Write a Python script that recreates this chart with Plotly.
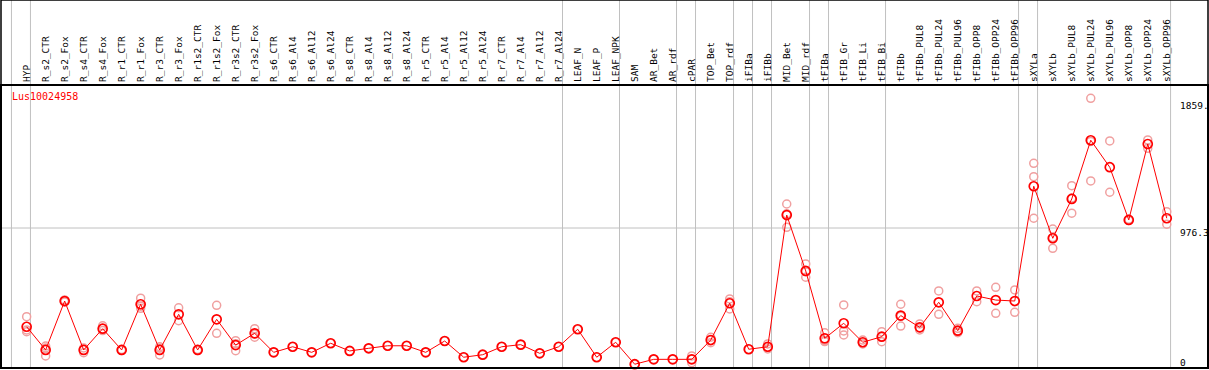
import plotly.graph_objects as go

title = "Lus10024958"
categories = ["HYP", "R_s2_CTR", "R_s2_Fox", "R_s4_CTR", "R_s4_Fox", "R_r1_CTR", "R_r1_Fox",
              "R_r3_CTR", "R_r3_Fox", "R_r1s2_CTR", "R_r1s2_Fox", "R_r3s2_CTR", "R_r3s2_Fox",
              "R_s6_CTR", "R_s6_Al4", "R_s6_Al12", "R_s6_Al24", "R_s8_CTR", "R_s8_Al4", "R_s8_Al12",
              "R_s8_Al24", "R_r5_CTR", "R_r5_Al4", "R_r5_Al12", "R_r5_Al24", "R_r7_CTR", "R_r7_Al4",
              "R_r7_Al12", "R_r7_Al24", "LEAF_N", "LEAF_P", "LEAF_NPK", "SAM", "AR_Bet", "AR_rdf",
              "cPAR", "TOP_Bet", "TOP_rdf", "iFIBa", "iFIBb", "MID_Bet", "MID_rdf", "tFIBa",
              "tFIB_Gr", "tFIB_Li", "tFIB_Bi", "tFIBb", "tFIBb_PUL8", "tFIBb_PUL24", "tFIBb_PUL96",
              "tFIBb_OPP8", "tFIBb_OPP24", "tFIBb_OPP96", "sXYLa", "sXYLb", "sXYLb_PUL8",
              "sXYLb_PUL24", "sXYLb_PUL96", "sXYLb_OPP8", "sXYLb_OPP24", "sXYLb_OPP96"]
group_sizes = [1, 28, 3, 3, 1, 2, 1, 1, 2, 1, 3, 7, 1, 7]

means = [270, 104, 454, 104, 256, 104, 431, 104, 359, 104, 323, 139, 223,
         87, 127, 87, 152, 97, 116, 134, 134, 87, 168, 52, 70, 127, 142, 80, 127, 252, 52, 159,
         2, 37, 37, 37, 175, 438, 109, 127, 1069, 669, 187, 295, 159, 199,
         350, 266, 445, 242, 490, 461, 454, 1275, 903, 1184, 1604, 1411, 1034, 1577, 1046]

replicates = [[342, 247, 235], [132, 61, 118], [462, 447], [118, 84], [277, 243], [100, 108],
              [474, 402, 417], [127, 68, 117], [406, 313], [100, 108], [423, 223], [170, 99, 149],
              [256, 195, 218], [87], [127], [87], [152], [97], [116], [134], [134], [87], [168],
              [52], [70], [127], [142], [80], [127], [252], [52], [159], [2], [37], [37],
              [61, 13, 37], [195, 156], [469, 397, 448], [109], [147, 123, 111],
              [1148, 981, 1078], [719, 624, 664], [227, 170, 164], [426, 240, 211],
              [175, 147, 155], [235, 199, 163], [431, 275, 345], [290, 247, 261], [526, 359],
              [259, 227, 240], [526, 449], [552, 366], [533, 373], [1439, 1343, 1046],
              [969, 831, 908], [1279, 1082, 1190], [1904, 1313, 1595], [1599, 1232],
              [1030, 1038], [1606, 1546], [1093, 1003]]

axis_labels = ["1859.", "976.3", "0"]
axis_values = [1859, 976.3, 0]

xs = list(range(len(categories)))
rx, ry = [], []
for i, reps in enumerate(replicates):
    for v in reps:
        rx.append(i)
        ry.append(v)

mono = "DejaVu Sans Mono"
fig = go.Figure()
fig.add_trace(go.Scatter(x=rx, y=ry, mode="markers",
                         marker=dict(symbol="circle-open", size=8, color="#f0a0a0",
                                     line=dict(width=1.5, color="#f0a0a0")),
                         hoverinfo="skip", showlegend=False, cliponaxis=False))
fig.add_trace(go.Scatter(x=xs, y=means, mode="lines+markers",
                         line=dict(color="#ff0000", width=1),
                         marker=dict(symbol="circle-open", size=9, color="#ff0000",
                                     line=dict(width=1.7, color="#ff0000")),
                         showlegend=False, cliponaxis=False))

shapes = []
GRAY = "#c0c0c0"
seps = [-0.8]
acc = 0
for g in group_sizes:
    acc += g
    seps.append(acc - 1 + 0.2)
TOP = 368.0 / 283.0
for s in seps:
    shapes.append(dict(type="line", xref="x", yref="paper", x0=s, x1=s, y0=0, y1=TOP,
                       line=dict(color=GRAY, width=1), layer="below"))
shapes.append(dict(type="line", xref="x", yref="y", x0=-1.35, x1=seps[-1], y0=976.3, y1=976.3,
                   line=dict(color=GRAY, width=1), layer="below"))
# plot box and outer border
shapes.append(dict(type="rect", xref="paper", yref="paper", x0=0, x1=1, y0=0, y1=1,
                   line=dict(color="black", width=2)))
shapes.append(dict(type="rect", xref="paper", yref="paper", x0=0, x1=1, y0=0, y1=TOP,
                   line=dict(color="black", width=1.5)))

annotations = [dict(text=title, xref="paper", yref="paper", x=9.0 / 1207, y=(368 - 97) / 283.0,
                    xanchor="left", yanchor="middle", showarrow=False,
                    font=dict(family=mono, size=10, color="#ff0000"))]
shifts = [-1, -4, 2]
for lab, val, sh in zip(axis_labels, axis_values, shifts):
    annotations.append(dict(text=lab, xref="x", yref="y", x=seps[-1] + 0.4, y=val,
                            xanchor="left", yanchor="middle", yshift=sh, showarrow=False,
                            font=dict(family=mono, size=9.5, color="black")))

fig.update_layout(
    width=1209, height=370,
    margin=dict(l=1, r=1, t=85, b=2, pad=0),
    paper_bgcolor="white", plot_bgcolor="white",
    shapes=shapes, annotations=annotations,
    xaxis=dict(range=[-1.35, 62.17], tickmode="array", tickvals=xs, ticktext=categories,
               side="top", tickangle=-90, showgrid=False, zeroline=False, ticks="",
               ticklabelstandoff=2,
               showline=False, tickfont=dict(family=mono, size=9.5, color="black")),
    yaxis=dict(range=[-25, 1999], showgrid=False, zeroline=False, showticklabels=False,
               ticks="", showline=False),
)

fig.write_html("out.html", config={"displayModeBar": False},
               post_script="document.body.style.margin='0';document.body.style.overflow='hidden';")
